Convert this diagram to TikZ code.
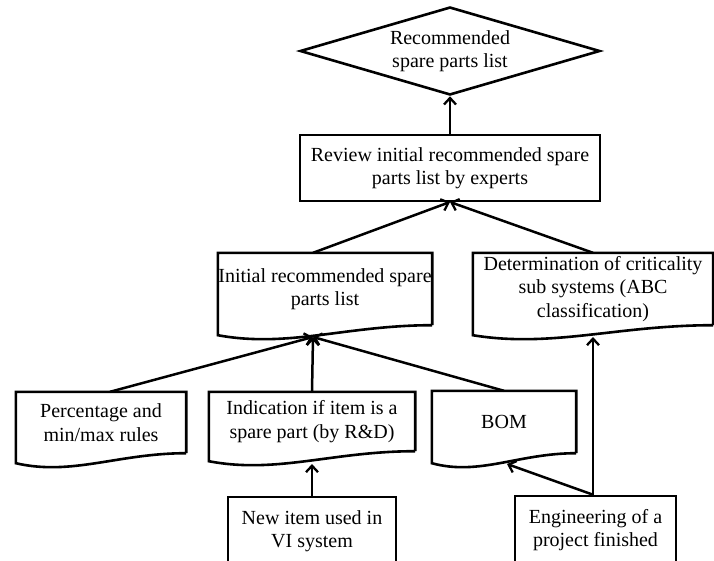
\documentclass[tikz,border=0pt]{standalone}
\usepackage{fontspec}
\setmainfont{Liberation Serif}
\usetikzlibrary{arrows.meta,shapes.geometric,calc}
\tikzset{
  every node/.style={font=\fontsize{20}{23.5}\selectfont, align=center, inner sep=0pt},
  outline/.style={line width=2.6pt, line join=miter},
  procbox/.style={draw, outline, rectangle},
  docbox/.style={rectangle},
  decision/.style={draw, outline, diamond},
  flow/.style={line width=2.5pt, -{Straight Barb[length=6.5pt,width=12pt,line width=2.3pt]}},
}
% document symbol: flat top, wavy bottom
\newcommand{\docoutline}[1]{%
  \draw[outline] (#1.south east) -- (#1.north east) -- (#1.north west)
    -- ([yshift=-10pt]#1.south west)
    .. controls ($(#1.south west)!0.33!(#1.south east)+(0,-23pt)$)
       and ($(#1.south west)!0.6!(#1.south east)+(0,0pt)$) .. (#1.south east);}
\begin{document}
\begin{tikzpicture}[x=1pt,y=-1pt]
\useasboundingbox (0,0) rectangle (714,560);
\clip (0,0) rectangle (714,560);

% top decision and review step
\node[decision, minimum width=300pt, minimum height=88pt, shape aspect=3.4] (rec) at (450,51) {Recommended\\spare parts list};
\node[procbox, minimum width=300pt, minimum height=66pt] (rev) at (450,168) {Review initial recommended spare\\parts list by experts};

% documents
\node[docbox, minimum width=214pt, minimum height=72pt] (init) at (325,289) {Initial recommended spare\\parts list};
\node[docbox, minimum width=240pt, minimum height=72pt] (det) at (593,289) {Determination of criticality\\sub systems (ABC\\classification)};
\node[docbox, minimum width=170pt, minimum height=61pt] (pct) at (101,422.5) {Percentage and\\min/max rules};
\node[docbox, minimum width=206pt, minimum height=59pt] (ind) at (312,421.5) {Indication if item is a\\spare part (by R\&D)};
\node[docbox, minimum width=144pt, minimum height=62pt] (bom) at (504,422) {BOM};
\docoutline{init}
\docoutline{det}
\docoutline{pct}
\docoutline{ind}
\docoutline{bom}

% starting events
\node[procbox, minimum width=168pt, minimum height=68pt] (new) at (312,531) {New item used in\\VI system};
\node[procbox, minimum width=161pt, minimum height=68pt] (eng) at (595.5,530) {Engineering of a\\project finished};

% arrow targets on wavy edges
\coordinate (initIn) at (313,337);
\coordinate (detIn) at (593,337);
\coordinate (indIn) at (312,464);
\coordinate (bomIn) at (507,464);
\coordinate (revIn) at (450,202);

% connectors
\draw[flow] (rev.north) -- (rec.south);
\draw[flow] ([xshift=-12pt]init.north) -- (revIn);
\draw[flow] (det.north) -- (revIn);
\draw[flow] ([xshift=9pt]pct.north) -- (initIn);
\draw[flow] (ind.north) -- (initIn);
\draw[flow] (bom.north) -- (initIn);
\draw[flow] (new.north) -- (indIn);
\draw[flow] ([xshift=-2.5pt]eng.north) -- (bomIn);
\draw[flow] ([xshift=-2.5pt]eng.north) -- (detIn);
\end{tikzpicture}
\end{document}
